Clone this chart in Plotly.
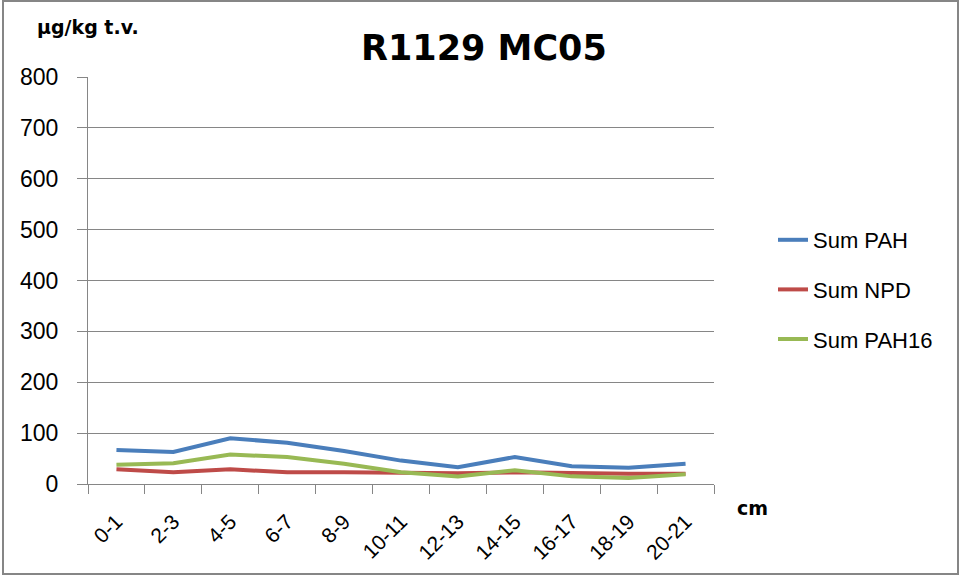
import plotly.graph_objects as go

categories = ["0-1", "2-3", "4-5", "6-7", "8-9", "10-11", "12-13", "14-15", "16-17", "18-19", "20-21"]
sum_pah = [67, 63, 90, 81, 65, 46, 33, 53, 35, 32, 40]
sum_npd = [29, 23, 29, 23, 23, 22, 21, 23, 21, 20, 20]
sum_pah16 = [38, 41, 58, 53, 40, 23, 15, 27, 15, 12, 19]
y_ticks = [0, 100, 200, 300, 400, 500, 600, 700, 800]

series = [("Sum PAH", sum_pah, "#4a7ebb"),
          ("Sum NPD", sum_npd, "#be4b48"),
          ("Sum PAH16", sum_pah16, "#98b954")]

W, H = 962, 576
L, R, T, B = 88, 248, 77, 92
pw, ph = W - L - R, H - T - B

fig = go.Figure()
for i, (name, vals, col) in enumerate(series):
    fig.add_trace(go.Scatter(x=categories, y=vals, name=name, mode="lines",
                             legendgroup=f"g{i}",
                             line=dict(color=col, width=4)))

font = "Liberation Sans"
bold = "DejaVu Sans"
fig.update_layout(
    width=W, height=H,
    margin=dict(l=L, r=R, t=T, b=B),
    paper_bgcolor="white", plot_bgcolor="white",
    font=dict(family=font, color="#000000", size=22),
    showlegend=True,
    legend=dict(x=(773 - L) / pw, y=(484 - 219) / ph, xanchor="left", yanchor="top",
                font=dict(size=22, family=font), tracegroupgap=18,
                bgcolor="rgba(0,0,0,0)"),
    xaxis=dict(type="category", range=[-0.5, 10.5], tickson="boundaries",
               ticks="outside", ticklen=9, tickcolor="#868686", tickangle=-45,
               showline=True, linecolor="#868686", linewidth=1, showgrid=False,
               ticklabelstandoff=16,
               tickfont=dict(size=21, family=font)),
    yaxis=dict(range=[0, 800], tickvals=y_ticks, ticks="outside", ticklen=10,
               tickcolor="#868686", showline=True, linecolor="#868686", linewidth=1,
               showgrid=True, gridcolor="#868686", gridwidth=1, zeroline=False,
               ticklabelstandoff=14,
               tickfont=dict(size=23, family=font)),
    annotations=[
        dict(text="<b>R1129 MC05</b>", xref="paper", yref="paper",
             x=(484 - L) / pw, y=(484 - 48) / ph, xanchor="center", yanchor="middle",
             showarrow=False, font=dict(size=35, family=bold)),
        dict(text="<b>µg/kg t.v.</b>", xref="paper", yref="paper",
             x=(35 - L) / pw, y=(484 - 27) / ph, xanchor="left", yanchor="middle",
             showarrow=False, font=dict(size=19, family=bold)),
        dict(text="<b>cm</b>", xref="paper", yref="paper",
             x=(735 - L) / pw, y=(484 - 508) / ph, xanchor="left", yanchor="middle",
             showarrow=False, font=dict(size=19, family=bold)),
    ],
    shapes=[dict(type="rect", xref="paper", yref="paper",
                 x0=(3 - L) / pw, x1=(958 - L) / pw,
                 y0=(484 - 574) / ph, y1=(484 - 1) / ph,
                 line=dict(color="#868686", width=2), fillcolor="rgba(0,0,0,0)")],
)

fig.write_html("out.html", config={"displayModeBar": False},
               post_script="document.body.style.margin='0';")
